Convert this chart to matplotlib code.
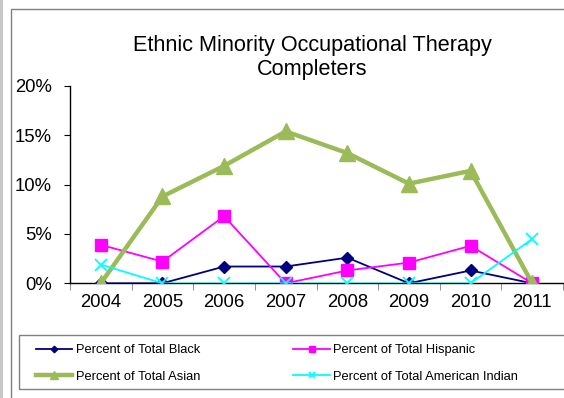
import matplotlib
matplotlib.use("Agg")
import matplotlib.pyplot as plt
from matplotlib.patches import Rectangle
from matplotlib.ticker import FuncFormatter, MultipleLocator

plt.rcParams['font.family'] = ['Liberation Sans', 'DejaVu Sans']

years = ['2004', '2005', '2006', '2007', '2008', '2009', '2010', '2011']
black = [0.0, 0.0, 1.7, 1.7, 2.6, 0.0, 1.3, 0.0]
hispanic = [3.9, 2.2, 6.8, 0.0, 1.3, 2.1, 3.8, 0.0]
asian = [0.0, 8.8, 11.9, 15.4, 13.2, 10.1, 11.4, 0.0]
am_indian = [1.9, 0.0, 0.0, 0.0, 0.0, 0.0, 0.0, 4.5]

W, H = 564, 398
fig = plt.figure(figsize=(W / 100, H / 100), dpi=100)

# background decorations: light grey band and outer chart border
fig.patches.append(Rectangle((0, 0), 3 / W, 1, transform=fig.transFigure,
                             facecolor='#c8c8c8', edgecolor='none'))
fig.patches.append(Rectangle((11 / W, -0.1), 1.0, 1 - 9 / H + 0.1, transform=fig.transFigure,
                             facecolor='none', edgecolor='#808080', linewidth=1.0))
# legend frame
fig.patches.append(Rectangle((19 / W, 1 - 389 / H), 1.0, 54 / H, transform=fig.transFigure,
                             facecolor='none', edgecolor='#808080', linewidth=1.0))

ax = fig.add_axes([70 / W, 1 - 283.3 / H, (563 - 70) / W, (283.3 - 86) / H])
x = list(range(len(years)))

ax.plot(x, black, color='#000080', lw=1.3, marker='D', ms=6, label='Percent of Total Black', zorder=3)
ax.plot(x, hispanic, color='#FF00FF', lw=1.3, marker='s', ms=8, label='Percent of Total Hispanic', zorder=3)
ax.plot(x, asian, color='#9BBB59', lw=3.2, marker='^', ms=11, label='Percent of Total Asian', zorder=4)
ax.plot(x, am_indian, color='#00FFFF', lw=1.3, marker='x', ms=8, mew=1.3, label='Percent of Total American Indian', zorder=5)

ax.set_xlim(-0.5, len(years) - 0.5)
ax.set_ylim(0, 20)
ax.yaxis.set_major_locator(MultipleLocator(5))
ax.yaxis.set_major_formatter(FuncFormatter(lambda v, p: f'{v:.0f}%'))
ax.set_xticks(x)
ax.set_xticklabels(years)
ax.set_xticks([i + 0.5 for i in range(-1, len(years))], minor=True)
ax.tick_params(axis='x', which='major', length=0, pad=8, labelsize=13.3)
ax.tick_params(axis='x', which='minor', length=5, color='#808080', direction='out')
ax.tick_params(axis='y', length=4, pad=9, labelsize=13.3, direction='out')

for s in ['top', 'right']:
    ax.spines[s].set_visible(False)
ax.spines['left'].set_linewidth(1.0)
ax.spines['bottom'].set_linewidth(1.0)
ax.patch.set_alpha(0)

fig.text(312 / W, 1 - 45 / H, 'Ethnic Minority Occupational Therapy',
         ha='center', va='center', fontsize=15.6)
fig.text(312 / W, 1 - 70 / H, 'Completers',
         ha='center', va='center', fontsize=15.6)

h, l = ax.get_legend_handles_labels()
order = [0, 2, 1, 3]
leg = fig.legend([h[i] for i in order], [l[i] for i in order],
                 loc='upper left', bbox_to_anchor=(36 / W, 1 - 344 / H),
                 ncol=2, fontsize=9.3, frameon=False,
                 borderaxespad=0, borderpad=0, handlelength=2.8, handletextpad=0.3,
                 markerscale=0.55, labelspacing=1.15, columnspacing=7.2)

fig.savefig('out.png', dpi=100)
